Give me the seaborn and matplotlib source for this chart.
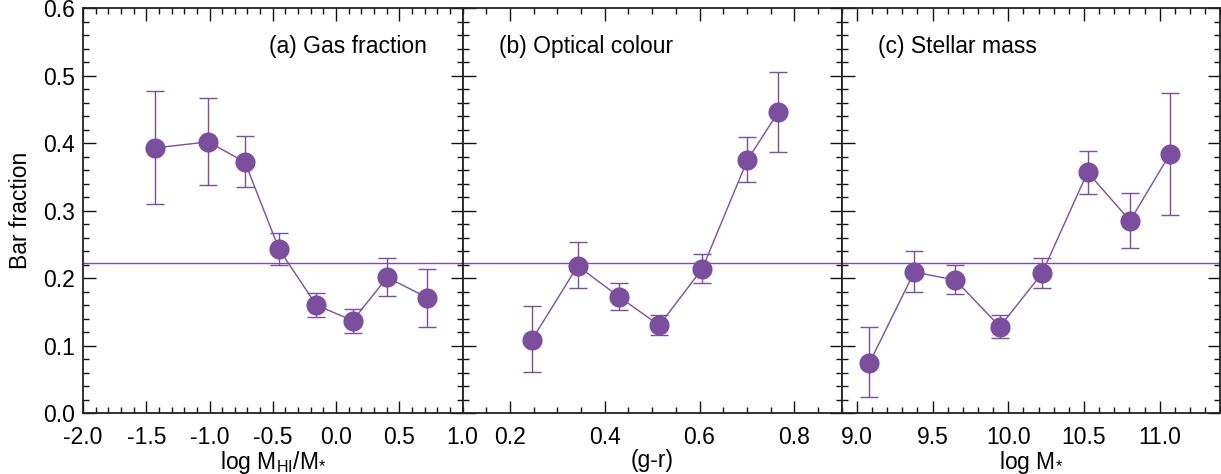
import numpy as np
import pandas as pd
import matplotlib
matplotlib.use("Agg")
import matplotlib.pyplot as plt
from matplotlib.ticker import MultipleLocator, FormatStrFormatter
import seaborn as sns

# ---- data ----
gas_x = [-1.43, -1.01, -0.72, -0.45, -0.156, 0.132, 0.405, 0.722]
gas_y = [0.393, 0.402, 0.372, 0.243, 0.160, 0.137, 0.201, 0.171]
gas_hi = [0.477, 0.467, 0.410, 0.267, 0.178, 0.154, 0.230, 0.213]
gas_lo = [0.310, 0.338, 0.335, 0.219, 0.142, 0.118, 0.174, 0.128]

col_x = [0.246, 0.343, 0.431, 0.515, 0.606, 0.701, 0.766]
col_y = [0.108, 0.218, 0.172, 0.130, 0.214, 0.375, 0.446]
col_hi = [0.158, 0.253, 0.193, 0.146, 0.236, 0.409, 0.505]
col_lo = [0.061, 0.185, 0.153, 0.116, 0.193, 0.342, 0.387]

mass_x = [9.083, 9.379, 9.651, 9.945, 10.223, 10.524, 10.805, 11.068]
mass_y = [0.074, 0.209, 0.197, 0.128, 0.207, 0.357, 0.285, 0.384]
mass_hi = [0.127, 0.240, 0.219, 0.146, 0.230, 0.389, 0.326, 0.474]
mass_lo = [0.023, 0.180, 0.177, 0.111, 0.186, 0.324, 0.244, 0.293]

mean_frac = 0.222

panel_titles = ["(a) Gas fraction", "(b) Optical colour", "(c) Stellar mass"]
x_labels = [r"log M$_{\rm HI}$/M$_{*}$", "(g-r)", r"log M$_{*}$"]
y_label = "Bar fraction"

sns.set_theme(style="ticks")
plt.rcParams["font.family"] = ["Liberation Sans", "DejaVu Sans"]
plt.rcParams["mathtext.fontset"] = "custom"
plt.rcParams["mathtext.rm"] = "Liberation Sans"
plt.rcParams["mathtext.it"] = "Liberation Sans"
plt.rcParams["axes.unicode_minus"] = False

color = "#7c4f9e"
fs = 16.5

fig = plt.figure(figsize=(12.21, 4.74), dpi=100)
bottom = 1 - 413 / 474
height = (413 - 8.3) / 474
lefts = [83 / 1221, 462.5 / 1221, 841.7 / 1221]
widths = [379.5 / 1221, 379.2 / 1221, 378.5 / 1221]

datasets = [
    (gas_x, gas_y, gas_lo, gas_hi),
    (col_x, col_y, col_lo, col_hi),
    (mass_x, mass_y, mass_lo, mass_hi),
]
xlims = [(-2.0, 1.0), (0.1, 0.9), (8.9, 11.4)]
xminor = [0.1, 0.05, 0.1]
xticklists = [[-2.0, -1.5, -1.0, -0.5, 0.0, 0.5, 1.0],
              [0.2, 0.4, 0.6, 0.8],
              [9.0, 9.5, 10.0, 10.5, 11.0]]

for i, (x, y, lo, hi) in enumerate(datasets):
    ax = fig.add_axes([lefts[i], bottom, widths[i], height])
    df = pd.DataFrame({"x": x, "y": y})
    ax.axhline(mean_frac, color=color, lw=1.0, zorder=1)
    y_arr = np.array(y)
    yerr = np.vstack([y_arr - np.array(lo), np.array(hi) - y_arr])
    ax.errorbar(x, y, yerr=yerr, fmt="none", ecolor=color, elinewidth=1.0,
                capsize=6.5, capthick=1.0, zorder=2)
    sns.lineplot(data=df, x="x", y="y", ax=ax, color=color, lw=1.0,
                 marker="o", markersize=14.5, markeredgewidth=0,
                 markerfacecolor=color, sort=False, zorder=3)
    ax.set_xlim(*xlims[i])
    ax.set_ylim(0.0, 0.6)
    ax.set_xticks(xticklists[i])
    ax.xaxis.set_minor_locator(MultipleLocator(xminor[i]))
    ax.xaxis.set_major_formatter(FormatStrFormatter("%.1f"))
    ax.yaxis.set_major_locator(MultipleLocator(0.1))
    ax.yaxis.set_minor_locator(MultipleLocator(0.02))
    ax.yaxis.set_major_formatter(FormatStrFormatter("%.1f"))
    ax.tick_params(which="both", direction="in", top=True, right=True,
                   color="#111111", width=1.0)
    ax.tick_params(which="major", length=9, labelsize=fs, pad=9,
                   labelcolor="black")
    ax.tick_params(axis="y", which="major", pad=6)
    ax.tick_params(which="minor", length=4.5)
    for s in ax.spines.values():
        s.set_linewidth(1.3)
        s.set_color("#222222")
    ax.set_xlabel(x_labels[i], fontsize=fs, labelpad=0, color="black")
    if i == 0:
        ax.set_ylabel(y_label, fontsize=fs, labelpad=8, color="black")
        ax.text(0.905, 0.905, panel_titles[i], transform=ax.transAxes,
                ha="right", va="center", fontsize=fs, color="black")
    else:
        ax.set_ylabel("")
        ax.set_yticklabels([])
        ax.text(0.095, 0.905, panel_titles[i], transform=ax.transAxes,
                ha="left", va="center", fontsize=fs, color="black")
    if ax.get_legend():
        ax.get_legend().remove()

fig.savefig("out.png", dpi=100)
